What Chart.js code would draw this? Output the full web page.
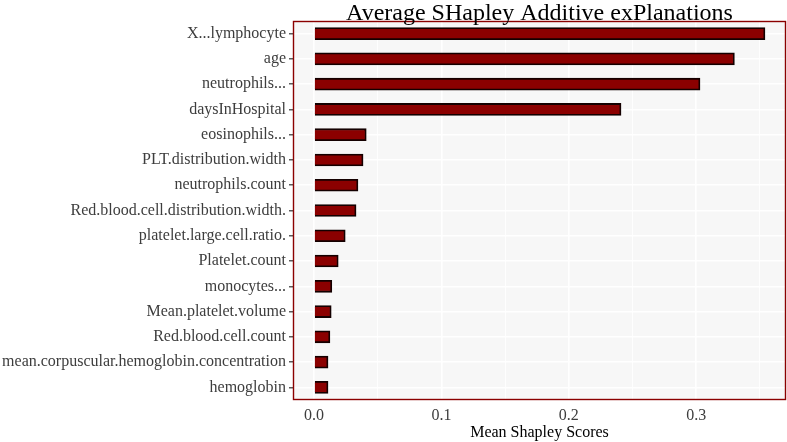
<!DOCTYPE html>
<html>
<head>
<meta charset="utf-8">
<script src="https://cdn.jsdelivr.net/npm/chart.js@4/dist/chart.umd.min.js"></script>
<style>
  html, body { margin: 0; padding: 0; background: #fff; }
  #wrap { width: 787px; height: 442px; position: relative; }
</style>
</head>
<body>
<div id="wrap"><canvas id="chart" width="787" height="442"></canvas></div>
<script>
// dados
const features = [
  'X...lymphocyte', 'age', 'neutrophils...', 'daysInHospital', 'eosinophils...',
  'PLT.distribution.width', 'neutrophils.count', 'Red.blood.cell.distribution.width.',
  'platelet.large.cell.ratio.', 'Platelet.count', 'monocytes...', 'Mean.platelet.volume',
  'Red.blood.cell.count', 'mean.corpuscular.hemoglobin.concentration', 'hemoglobin'
];
const meanShap = [0.354, 0.330, 0.303, 0.241, 0.041, 0.0385, 0.0345, 0.033,
  0.0245, 0.019, 0.014, 0.0135, 0.0125, 0.011, 0.011];
const xMajor = [0, 0.1, 0.2, 0.3];
const xMinor = [0.05, 0.15, 0.25, 0.35];

const serif = "'Liberation Serif', 'DejaVu Serif', serif";
const darkRed = '#8b0000';

// fundo do painel, borda e titulo
const panelPlugin = {
  id: 'panel',
  beforeDraw(chart) {
    const a = chart.chartArea, ctx = chart.ctx;
    ctx.save();
    ctx.fillStyle = '#f7f7f7';
    ctx.fillRect(a.left, a.top, a.right - a.left, a.bottom - a.top);
    ctx.restore();
  },
  afterDraw(chart) {
    const a = chart.chartArea, ctx = chart.ctx;
    ctx.save();
    ctx.strokeStyle = darkRed;
    ctx.lineWidth = 1.4;
    ctx.strokeRect(a.left + 0.5, a.top + 0.5, a.right - a.left - 1, a.bottom - a.top - 1);
    ctx.fillStyle = '#000';
    ctx.font = '24px ' + serif;
    ctx.textAlign = 'center';
    ctx.textBaseline = 'alphabetic';
    ctx.fillText('Average SHapley Additive exPlanations', (a.left + a.right) / 2, 20);
    ctx.restore();
  }
};

const config = {
  type: 'bar',
  data: {
    labels: features,
    datasets: [{
      data: meanShap,
      backgroundColor: darkRed,
      borderColor: '#140000',
      borderWidth: 1.8,
      barThickness: 12
    }]
  },
  options: {
    indexAxis: 'y',
    responsive: false,
    animation: false,
    layout: { padding: { top: 21, right: 1, bottom: 0, left: 0 } },
    plugins: { legend: { display: false }, tooltip: { enabled: false }, title: { display: false } },
    scales: {
      x: {
        type: 'linear',
        min: -0.0165,
        max: 0.3705,
        afterBuildTicks(scale) {
          scale.ticks = xMajor.concat(xMinor).sort((a, b) => a - b).map(v => ({ value: v }));
        },
        afterFit(scale) { scale.height = 42; },
        border: { display: false },
        grid: {
          color: '#ffffff',
          lineWidth: ctx => (xMajor.some(v => Math.abs(v - ctx.tick.value) < 1e-9) ? 1.6 : 0.8),
          drawTicks: false
        },
        ticks: {
          autoSkip: false,
          maxRotation: 0,
          padding: 6,
          color: '#3d3d3d',
          font: { family: serif, size: 16 },
          callback: v => (xMajor.some(m => Math.abs(m - v) < 1e-9) ? v.toFixed(1) : '')
        },
        title: {
          display: true,
          text: 'Mean Shapley Scores',
          color: '#000',
          font: { family: serif, size: 16 },
          padding: { top: 0, bottom: 0 }
        }
      },
      y: {
        afterFit(scale) { scale.width = 293; },
        border: { display: false },
        grid: {
          offset: false,
          color: '#ffffff',
          lineWidth: 1.6,
          tickColor: '#333333',
          tickLength: 4,
          tickWidth: 1.2
        },
        ticks: {
          autoSkip: false,
          padding: 3,
          color: '#3d3d3d',
          font: { family: serif, size: 16 }
        }
      }
    }
  },
  plugins: [panelPlugin]
};

new Chart(document.getElementById('chart'), config);
</script>
</body>
</html>
